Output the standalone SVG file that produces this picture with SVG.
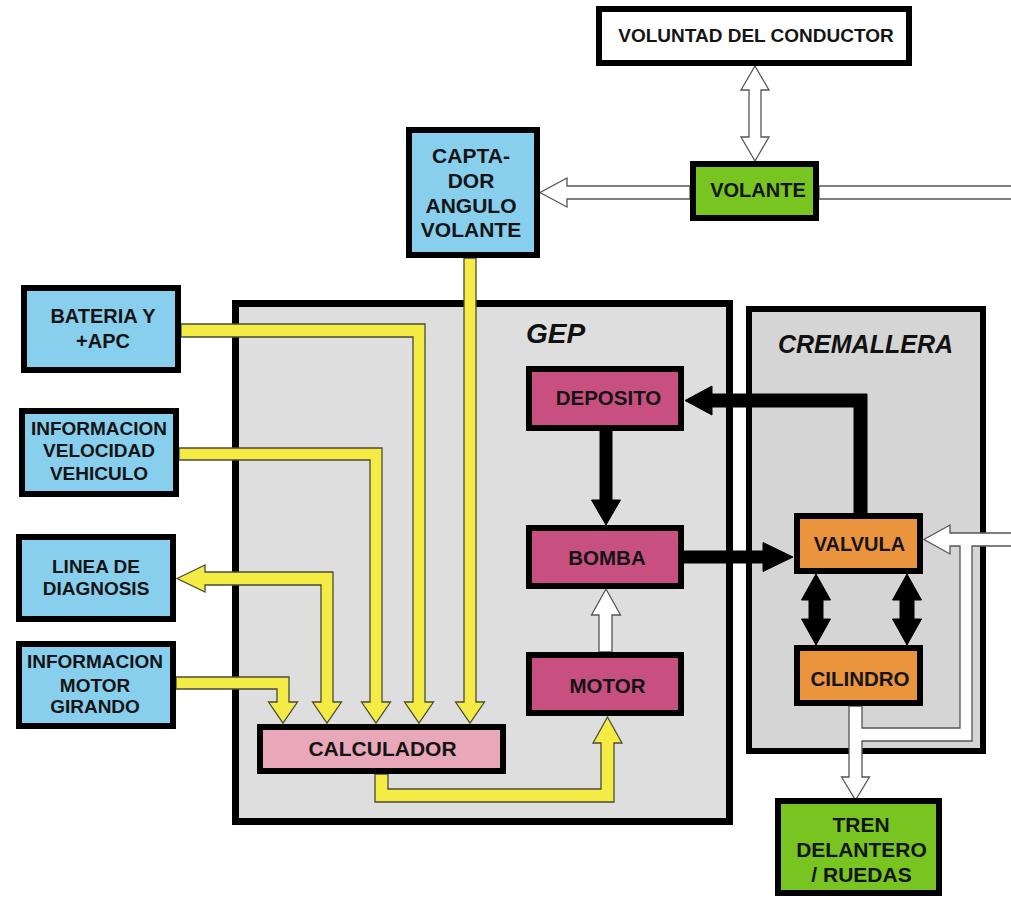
<svg xmlns="http://www.w3.org/2000/svg" width="1011" height="897" viewBox="0 0 1011 897">
<style>
.nd{stroke:#000;stroke-width:6}
.blue{fill:#88cfee}
.green{fill:#78c421}
.mag{fill:#c85080}
.pink{fill:#e8a8b9}
.org{fill:#ea953d}
.wht{fill:#fff}
.t{font-family:"Liberation Sans",Arial,sans-serif;font-weight:bold;fill:#141414;text-anchor:middle}
.ttl{font-family:"Liberation Sans",Arial,sans-serif;font-weight:bold;font-style:italic;fill:#111}
.y{fill:#f4ec44;stroke:#4a4a38;stroke-width:1.3;stroke-linejoin:miter}
.k{fill:#000;stroke:#000;stroke-width:1}
.h{fill:#fff;stroke:#555;stroke-width:1.3}
</style>
<rect width="1011" height="897" fill="#fff"/>
<g id="gep">
<rect x="235.5" y="303.5" width="494" height="518" fill="#dedede" stroke="#000" stroke-width="7"/>
<text class="ttl" x="526" y="343" font-size="28">GEP</text>
</g>
<g id="cremallera">
<rect x="749" y="309" width="234" height="442" fill="#d5d5d5" stroke="#000" stroke-width="6"/>
<text class="ttl" x="778" y="353" font-size="25">CREMALLERA</text>
</g>
<g id="connectors">
<polygon class="y" points="181,324 425,324 425,702 433.5,702 419,723 404.5,702 413,702 413,337 181,337"/>
<polygon class="y" points="179,448 382,448 382,702 390.5,702 376,723 361.5,702 370,702 370,460 179,460"/>
<polygon class="y" points="464,258 476,258 476,702 484.5,702 470,723 455.5,702 464,702"/>
<polygon class="y" points="177,578.5 205,565 205,572 333,572 333,702 341.5,702 327,723 312.5,702 321,702 321,585 205,585 205,592"/>
<polygon class="y" points="176,677 289,677 289,702 297.5,702 283,723 268.5,702 277,702 277,689 176,689"/>
<polygon class="y" points="375,774 375,802 614,802 614,743 622,743 607.5,717 593,743 601,743 601,789 388,789 388,774"/>
<polygon class="k" points="600,431 600,500 591.5,500 606,525 620.5,500 612,500 612,431"/>
<polygon class="k" points="684,551 763,551 763,542.5 793,557 763,571.5 763,563 684,563"/>
<polygon class="k" points="867,513 867,394 712,394 712,386 685,400.5 712,415 712,407 854,407 854,513"/>
<polygon class="k" points="816,574 830.5,600 823,600 823,619 830.5,619 816,645 801.5,619 809,619 809,600 801.5,600"/>
<polygon class="k" points="907,574 921.5,600 914,600 914,619 921.5,619 907,645 892.5,619 900,619 900,600 892.5,600"/>
<polygon class="h" points="599,652 599,615 591.5,615 606,589 620.5,615 612,615 612,652"/>
<polygon class="h" points="755,66 769,90 761,90 761,137 769,137 755,161 741,137 749,137 749,90 741,90"/>
<polygon class="h" points="690,186 567,186 567,178 540,192.5 567,207 567,199 690,199"/>
<polygon class="h" points="819,186 1016,186 1016,199 819,199"/>
<polygon class="h" points="1016,533 950,533 950,525 924,539.5 950,554 950,546 960,546 960,728 862,728 862,706 849,706 849,777 841.5,777 855.5,800 869.5,777 862,777 862,741 972,741 972,546 1016,546"/>
</g>
<g id="voluntad">
<rect class="nd wht" x="599" y="9" width="310" height="54"/>
<text class="t" x="756" y="42" font-size="19">VOLUNTAD DEL CONDUCTOR</text>
</g>
<g id="volante">
<rect class="nd green" x="693" y="164" width="123" height="54"/>
<text class="t" x="758" y="197" font-size="20">VOLANTE</text>
</g>
<g id="captador">
<rect class="nd blue" x="409" y="130" width="128" height="125"/>
<text class="t" x="471" y="163" font-size="21">CAPTA-</text>
<text class="t" x="471" y="188" font-size="21">DOR</text>
<text class="t" x="471" y="213" font-size="21">ANGULO</text>
<text class="t" x="471" y="237" font-size="21">VOLANTE</text>
</g>
<g id="bateria">
<rect class="nd blue" x="24" y="288" width="154" height="82"/>
<text class="t" x="103" y="323" font-size="20">BATERIA Y</text>
<text class="t" x="103" y="348" font-size="20">+APC</text>
</g>
<g id="velocidad">
<rect class="nd blue" x="22" y="411" width="154" height="83"/>
<text class="t" x="99" y="435" font-size="19">INFORMACION</text>
<text class="t" x="99" y="457" font-size="19">VELOCIDAD</text>
<text class="t" x="99" y="480" font-size="19">VEHICULO</text>
</g>
<g id="diagnosis">
<rect class="nd blue" x="19" y="537" width="154" height="82"/>
<text class="t" x="96" y="573" font-size="19">LINEA DE</text>
<text class="t" x="96" y="595" font-size="19">DIAGNOSIS</text>
</g>
<g id="motorgirando">
<rect class="nd blue" x="19" y="644" width="154" height="82"/>
<text class="t" x="95" y="668" font-size="19">INFORMACION</text>
<text class="t" x="95" y="692" font-size="19">MOTOR</text>
<text class="t" x="95" y="713" font-size="19">GIRANDO</text>
</g>
<g id="calculador">
<rect class="nd pink" x="260" y="727" width="243" height="44"/>
<text class="t" x="382.5" y="756" font-size="21">CALCULADOR</text>
</g>
<g id="deposito">
<rect class="nd mag" x="529" y="369" width="152" height="59"/>
<text class="t" x="608.5" y="405" font-size="20.5">DEPOSITO</text>
</g>
<g id="bomba">
<rect class="nd mag" x="529" y="528" width="152" height="58"/>
<text class="t" x="607" y="565" font-size="20.5">BOMBA</text>
</g>
<g id="motor">
<rect class="nd mag" x="529" y="655" width="152" height="58"/>
<text class="t" x="607.5" y="693" font-size="20.5">MOTOR</text>
</g>
<g id="valvula">
<rect class="nd org" x="797" y="516" width="123" height="55"/>
<text class="t" x="859.5" y="551" font-size="20">VALVULA</text>
</g>
<g id="cilindro">
<rect class="nd org" x="797" y="648" width="123" height="55"/>
<text class="t" x="860" y="686" font-size="20.5">CILINDRO</text>
</g>
<g id="tren">
<rect class="nd green" x="778" y="801" width="161" height="92"/>
<text class="t" x="861" y="832" font-size="21">TREN</text>
<text class="t" x="861.5" y="857" font-size="21">DELANTERO</text>
<text class="t" x="861.5" y="882" font-size="21">/ RUEDAS</text>
</g>
</svg>
